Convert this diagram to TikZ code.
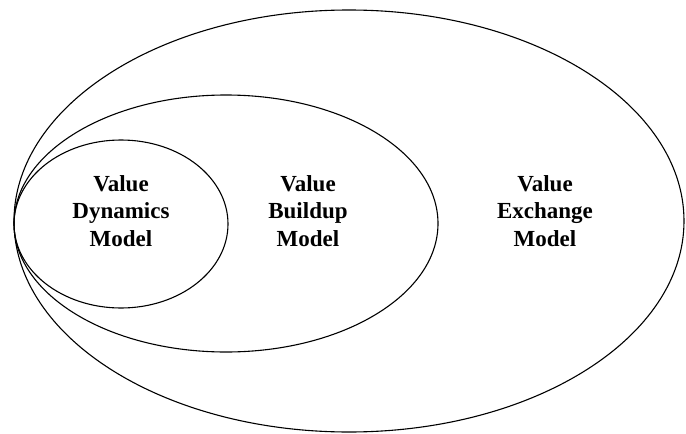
\documentclass[tikz,border=0pt]{standalone}
\usepackage{fontspec}
\setmainfont{Liberation Serif}
\usetikzlibrary{shapes.geometric}
\tikzstyle{model} = [ellipse, draw=black, line width=1.1pt, inner sep=0pt]
\tikzstyle{label} = [align=center, font=\fontsize{23}{27.5}\selectfont\bfseries]

\begin{document}
\begin{tikzpicture}[x=1pt, y=-1pt]
        \useasboundingbox (0,0) rectangle (686,434);

        \node (exchange) [model, minimum width=670pt, minimum height=422pt] at (349,221) {};
        \node (buildup) [model, minimum width=424pt, minimum height=257pt] at (226,223.5) {};
        \node (dynamics) [model, minimum width=214pt, minimum height=168pt] at (121,224) {};

        % Labels
        \node (dynamicstext) [label] at (121,211) {Value\\Dynamics\\Model};
        \node (builduptext) [label] at (308,211) {Value\\Buildup\\Model};
        \node (exchangetext) [label] at (545,211) {Value\\Exchange\\Model};

\end{tikzpicture}
\end{document}
